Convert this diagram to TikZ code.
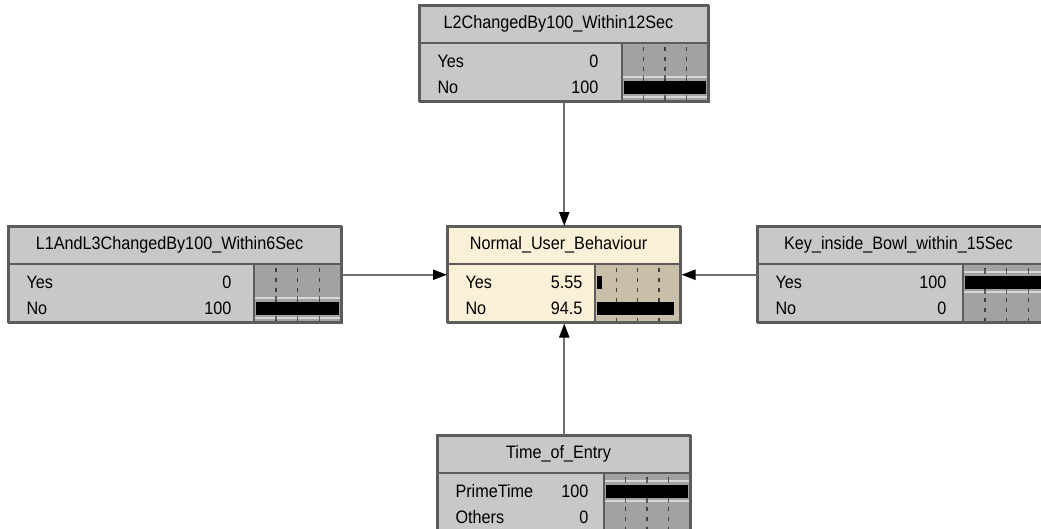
\documentclass[tikz,border=0pt]{standalone}
\usepackage{fontspec}
\setmainfont[FakeStretch=0.9]{Liberation Sans}
\usetikzlibrary{arrows.meta}
\definecolor{boxgrey}{HTML}{C8C8C8}
\definecolor{bargrey}{HTML}{A2A2A2}
\definecolor{edgegrey}{HTML}{5C5C5C}
\definecolor{cream}{HTML}{FAF0D7}
\definecolor{creambar}{HTML}{C9BFA8}
\definecolor{linkgrey}{HTML}{707070}
\definecolor{railgrey}{HTML}{D6D6D6}
\tikzset{
  netbox/.style={rectangle,draw=edgegrey,line width=1.5pt,fill=#1,minimum height=96,inner sep=0pt,anchor=north west},
  link/.style={draw=linkgrey,line width=2pt,-{Triangle[length=14pt,width=10pt,color=black]}},
  tick/.style={draw=edgegrey!70!black,line width=1.5pt,dash pattern=on 4pt off 6pt}
}
\begin{document}
\begin{tikzpicture}[x=1pt,y=-1pt,font=\fontsize{18}{20}\selectfont]
  \useasboundingbox (0,0) rectangle (1041,528);
  \clip (0,0) rectangle (1041,528);
  % one box per variable: name/x/y/width/bar start/value edge/title/state/value/state/value/colours
  \foreach \nm/\x/\y/\w/\bx/\vx/\ttl/\la/\va/\lb/\vb/\bg/\bb in {
    top/419/5/289/622/602/L2ChangedBy100\_Within12Sec/Yes/0/No/100/boxgrey/bargrey,
    behaviour/447/226/233/595/586/Normal\_User\_Behaviour/Yes/5.55/No/94.5/cream/creambar,
    left/8/226/333/254/235/L1AndL3ChangedBy100\_Within6Sec/Yes/0/No/100/boxgrey/bargrey,
    right/757/226/293/963/950/Key\_inside\_Bowl\_within\_15Sec/Yes/100/No/0/boxgrey/bargrey,
    entry/437/435/253/604/592/Time\_of\_Entry/PrimeTime/100/Others/0/boxgrey/bargrey}{
    \pgfmathsetmacro{\xr}{\x+\w}
    \pgfmathsetmacro{\ys}{\y+37.5}
    \pgfmathsetmacro{\yb}{\y+96}
    \pgfmathsetmacro{\bw}{\xr-\bx}
    \node[netbox=\bg,minimum width=\w] (\nm) at (\x,\y) {};
    \path[fill=\bb] (\bx,\ys) rectangle (\xr,\yb);
    \foreach \q in {1,2,3}
      \draw[tick] (\bx+\q*\bw/4,\ys+4) -- (\bx+\q*\bw/4,\yb);
    % the two state rows
    \foreach \lab/\val/\yc in {\la/\va/56,\lb/\vb/82}{
      \node[anchor=west] at (\x+15,\y+\yc) {\lab};
      \node[anchor=east] at (\vx,\y+\yc) {\val};
      \ifdim \val pt>99pt
        \draw[railgrey,line width=2pt] (\bx,\y+\yc-10) -- (\xr,\y+\yc-10);
        \draw[railgrey,line width=2pt] (\bx,\y+\yc+10) -- (\xr,\y+\yc+10);
        \foreach \q in {1,2,3}{
          \draw[edgegrey,line width=1.5pt] (\bx+\q*\bw/4,\y+\yc-12) -- (\bx+\q*\bw/4,\y+\yc-8);
          \draw[edgegrey,line width=1.5pt] (\bx+\q*\bw/4,\y+\yc+8) -- (\bx+\q*\bw/4,\y+\yc+12);
        }
      \fi
      \ifdim \val pt>0pt
        \pgfmathsetmacro{\barl}{(\bw-4)*\val/100}
        \path[fill=black] (\bx+2,\y+\yc-6.5) rectangle (\bx+2+\barl,\y+\yc+6.5);
      \fi
    }
    \draw[edgegrey,line width=1.5pt] (\bx,\ys) -- (\bx,\yb);
    \draw[edgegrey,line width=2pt] (\x,\ys) -- (\xr,\ys);
    \draw[edgegrey,line width=1.5pt] (\x,\y) rectangle (\xr,\yb);
    \node at (\x+\w/2-5,\y+19) {\ttl};
  }
  \draw[link] (top) -- (behaviour);
  \draw[link] (left) -- (behaviour);
  \draw[link] (right) -- (behaviour);
  \draw[link] (entry) -- (behaviour);
\end{tikzpicture}
\end{document}
